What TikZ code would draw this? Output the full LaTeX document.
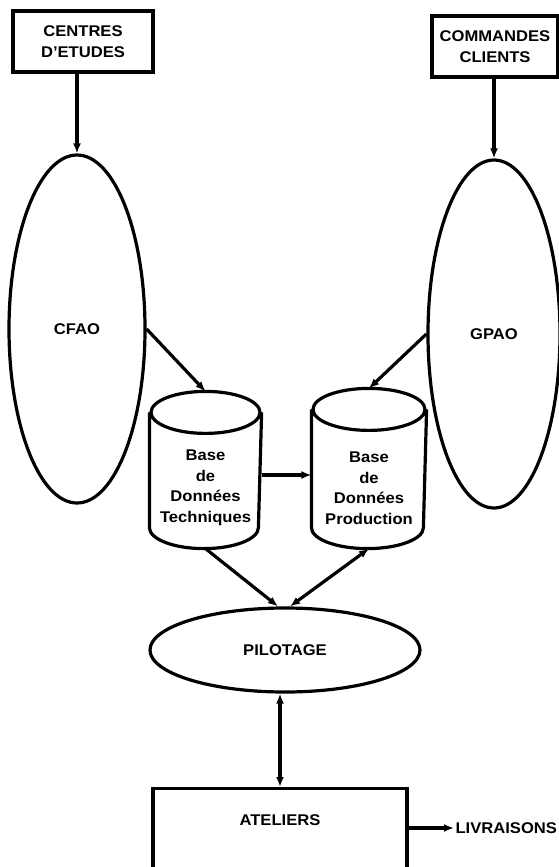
\documentclass[tikz,border=0pt]{standalone}
\usepackage{fontspec}
\setmainfont{Liberation Sans}[FakeStretch=1.07]
\usetikzlibrary{shapes.geometric,arrows.meta,calc}

% outline of a database drum around a rectangular body node
\newcommand\drumoutline[2]{%
  \draw ($(#1.north)+(0,21)$) ellipse [x radius=#2pt, y radius=21pt]
        ($(#1.north west)+(0,21)$) -- ($(#1.south west)+(0,-21)$)
        arc[start angle=180, end angle=360, x radius=#2pt, y radius=21pt]
        -- ($(#1.north east)+(0,21)$);}

\begin{document}
\begin{tikzpicture}[x=1pt,y=-1pt,
  line width=3.2pt,
  every node/.style={font=\bfseries\fontsize{15.5}{20.5}\selectfont, align=center},
  srcbox/.style={draw, rectangle, inner sep=0pt},
  blob/.style={draw, ellipse, inner sep=0pt},
  tipL/.tip={Latex[length=10pt,width=8pt]},
  arr/.style={-tipL},
  dblarr/.style={tipL-tipL},
  dbbody/.style={rectangle, inner sep=0pt}]
\useasboundingbox (0,0) rectangle (559,867);
\clip (0,0) rectangle (559,867);
\fill[white] (0,0) rectangle (559,867);

% sources
\node[srcbox, minimum width=140pt, minimum height=61pt] (ce) at (83,41.5) {CENTRES\\D'ETUDES};
\node[srcbox, minimum width=126pt, minimum height=61pt] (cc) at (495,46.5) {COMMANDES\\CLIENTS};

% systems
\node[blob, minimum width=136pt, minimum height=348pt] (cfao) at (77,329) {CFAO};
\node[blob, minimum width=132pt, minimum height=348pt] (gpao) at (494,334) {GPAO};

% databases
\node[dbbody, minimum width=109pt, minimum height=154pt,
      label={[yshift=-18pt]center:{Base\\de\\Données\\Techniques}}] (dbt) at (205.5,470) {};
\node[dbbody, minimum width=112pt, minimum height=157pt,
      label={[yshift=-19.5pt]center:{Base\\de\\Données\\Production}}] (dbp) at (369,468.5) {};
\drumoutline{dbt}{54.5}
\drumoutline{dbp}{56}

% control and shop floor
\node[blob, minimum width=270pt, minimum height=84pt] (pil) at (285,650) {PILOTAGE};
\node[srcbox, minimum width=254pt, minimum height=100pt, anchor=north] (atel) at (280,787) {};
\node (ateltxt) at (280,820) {ATELIERS};
\node[anchor=west, inner sep=0pt] (livr) at (454,828) {LIVRAISONS};

% flows
\draw[arr] (cfao.north |- ce.south) -- (cfao.north);
\draw[arr] (gpao.north |- cc.south) -- (gpao.north);
\draw[arr] (cfao.east) -- (dbt.north);
\draw[arr] (gpao.west) -- (dbp.north);
\draw[arr] ($(dbt.east)+(0,5)$) coordinate (h) -- (h -| dbp.west);
\draw[arr] (dbt.south) -- ($(pil.north)+(-7,0)$);
\draw[dblarr] (dbp.south) -- ($(pil.north)+(5,0)$);
\draw[dblarr] (atel.north) -- (atel.north |- pil.south);
\draw[arr] (livr.west -| atel.east) -- (livr.west);
\end{tikzpicture}
\end{document}
